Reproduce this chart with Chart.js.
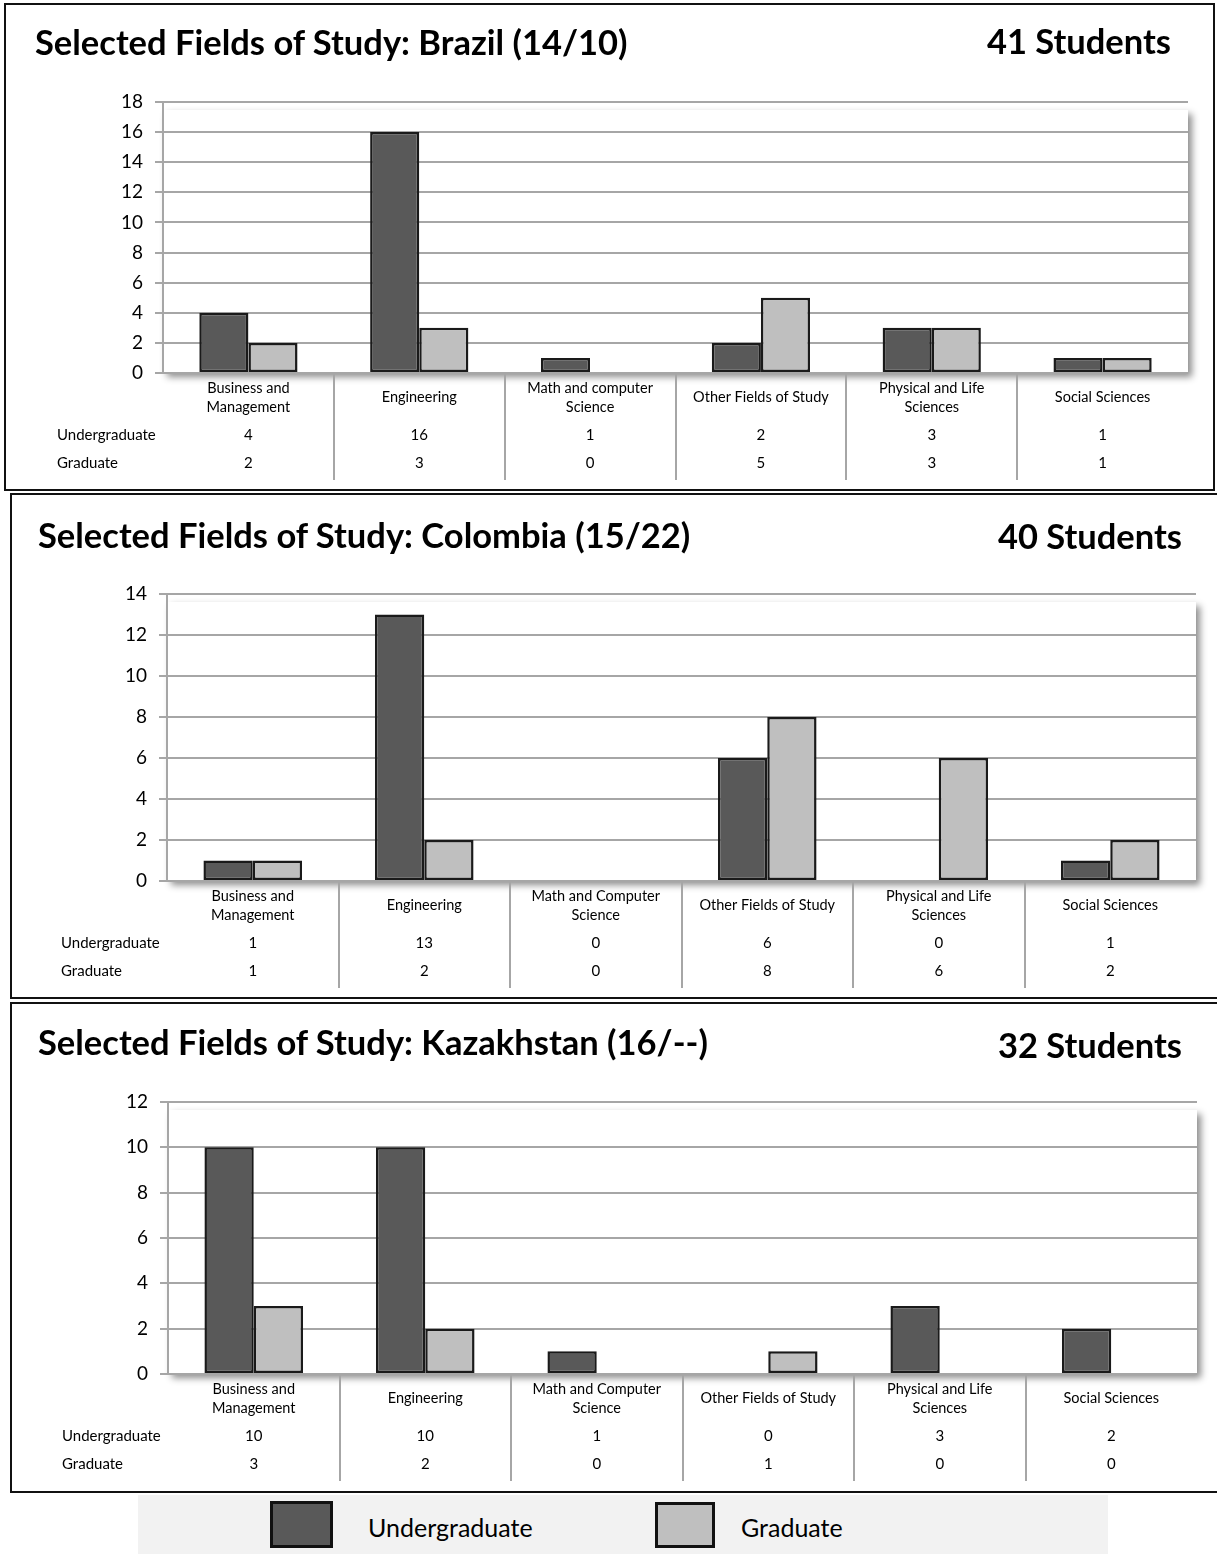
<!DOCTYPE html>
<html>
<head>
<meta charset="utf-8">
<script src="https://cdn.jsdelivr.net/npm/chart.js@4.4.1/dist/chart.umd.min.js"></script>
<style>
  html, body { margin:0; padding:0; background:#fff; }
  body { width:1217px; height:1554px; position:relative; overflow:hidden; font-family: Lato, "Open Sans", sans-serif; }
  .panel { position:absolute; border:2px solid #111; box-sizing:border-box; }
  .wrap { position:absolute; left:0; width:1217px; }
  .title { position:absolute; font-weight:bold; font-size:34.5px; color:#000; white-space:nowrap; line-height:1; }
  .rtitle { position:absolute; font-weight:bold; font-size:34.5px; color:#000; white-space:nowrap; line-height:1; text-align:right; }
  #legend { position:absolute; left:138px; top:1495px; width:970px; height:59px; background:#f2f2f2; }
  .sw { position:absolute; box-sizing:border-box; border:3px solid #111; }
  .lt { position:absolute; font-size:25px; color:#000; white-space:nowrap; line-height:1; }
</style>
</head>
<body>
<div class="panel" style="left:4px;top:3px;width:1211px;height:488px;"></div>
<div class="panel" style="left:10px;top:493px;width:1212px;height:506px;"></div>
<div class="panel" style="left:10px;top:1002px;width:1212px;height:491px;"></div>

<div class="wrap" style="top:0;height:492px;"><canvas id="c1"></canvas></div>
<div class="wrap" style="top:492px;height:508px;"><canvas id="c2"></canvas></div>
<div class="wrap" style="top:1000px;height:494px;"><canvas id="c3"></canvas></div>

<div class="title" style="left:35px;top:25px;">Selected Fields of Study: Brazil (14/10)</div>
<div class="rtitle" style="right:46px;top:24px;">41 Students</div>
<div class="title" style="left:38px;top:518px;">Selected Fields of Study: Colombia (15/22)</div>
<div class="rtitle" style="right:35px;top:519px;">40 Students</div>
<div class="title" style="left:38px;top:1025px;">Selected Fields of Study: Kazakhstan (16/--)</div>
<div class="rtitle" style="right:35px;top:1028px;">32 Students</div>

<div id="legend">
  <div class="sw" style="left:132px;top:6px;width:63px;height:47px;background:#595959;"></div>
  <div class="lt" style="left:230px;top:20px;">Undergraduate</div>
  <div class="sw" style="left:517px;top:7px;width:60px;height:46px;background:#bfbfbf;"></div>
  <div class="lt" style="left:603px;top:20px;">Graduate</div>
</div>

<script>
// ---------- DATA ----------
const seriesNames = ["Undergraduate", "Graduate"];

const brazilCategories = [["Business and","Management"], "Engineering", ["Math and computer","Science"], "Other Fields of Study", ["Physical and Life","Sciences"], "Social Sciences"];
const brazilUndergrad = [4, 16, 1, 2, 3, 1];
const brazilGrad      = [2, 3, 0, 5, 3, 1];
const brazilTicks = { max: 18, step: 2 };

const colombiaCategories = [["Business and","Management"], "Engineering", ["Math and Computer","Science"], "Other Fields of Study", ["Physical and Life","Sciences"], "Social Sciences"];
const colombiaUndergrad = [1, 13, 0, 6, 0, 1];
const colombiaGrad      = [1, 2, 0, 8, 6, 2];
const colombiaTicks = { max: 14, step: 2 };

const kazakhCategories = [["Business and","Management"], "Engineering", ["Math and Computer","Science"], "Other Fields of Study", ["Physical and Life","Sciences"], "Social Sciences"];
const kazakhUndergrad = [10, 10, 1, 0, 3, 2];
const kazakhGrad      = [3, 2, 0, 1, 0, 0];
const kazakhTicks = { max: 12, step: 2 };

// ---------- STYLE ----------
const FONT = "Lato, 'Open Sans', sans-serif";
const UG_COLOR = "#595959", G_COLOR = "#bfbfbf", BAR_BORDER = "#1a1a1a";
const GRID = "#a6a6a6";

const shadowPlugin = {
  id: 'areaShadow',
  beforeDraw(chart) {
    const {ctx, chartArea: a} = chart;
    ctx.save();
    ctx.shadowColor = 'rgba(0,0,0,0.45)';
    ctx.shadowBlur = 7;
    ctx.shadowOffsetX = 4;
    ctx.shadowOffsetY = 4;
    ctx.fillStyle = '#fff';
    ctx.fillRect(a.left, a.top + 8, a.right - a.left, a.bottom - a.top - 8);
    ctx.restore();
  }
};

const tablePlugin = {
  id: 'dataTable',
  afterDraw(chart) {
    const {ctx, chartArea: a, scales: {x}} = chart;
    const base = a.bottom;
    const n = chart.data.labels.length;
    ctx.save();
    ctx.strokeStyle = GRID;
    ctx.lineWidth = 2;
    for (let i = 1; i < n; i++) {
      const px = Math.round((x.getPixelForValue(i - 1) + x.getPixelForValue(i)) / 2);
      ctx.beginPath();
      ctx.moveTo(px, base);
      ctx.lineTo(px, base + 107);
      ctx.stroke();
    }
    ctx.fillStyle = '#000';
    ctx.font = "15px " + FONT;
    ctx.textBaseline = 'middle';
    chart.data.datasets.forEach((ds, r) => {
      const y = base + 62 + r * 28;
      ctx.textAlign = 'left';
      ctx.fillText(ds.label, a.left - 106, y);
      ctx.textAlign = 'center';
      ds.data.forEach((v, i) => ctx.fillText(String(v), x.getPixelForValue(i), y));
    });
    ctx.restore();
  }
};

function makeChart(id, h, cats, ug, gr, tk, pad) {
  const canvas = document.getElementById(id);
  canvas.style.width = '1217px';
  canvas.style.height = h + 'px';
  return new Chart(canvas, {
    type: 'bar',
    data: {
      labels: cats,
      datasets: [
        { label: seriesNames[0], data: ug, backgroundColor: UG_COLOR, borderColor: BAR_BORDER, borderWidth: 2.5, borderSkipped: false },
        { label: seriesNames[1], data: gr, backgroundColor: G_COLOR, borderColor: BAR_BORDER, borderWidth: 2.5, borderSkipped: false }
      ]
    },
    options: {
      responsive: true,
      maintainAspectRatio: false,
      animation: false,
      devicePixelRatio: 1,
      layout: { padding: pad },
      categoryPercentage: 0.575,
      barPercentage: 1.0,
      plugins: { legend: { display: false }, tooltip: { enabled: false }, title: { display: false } },
      scales: {
        x: {
          grid: { display: false, drawTicks: false },
          border: { display: false },
          ticks: { font: { family: FONT, size: 14.5, lineHeight: 1.32 }, color: '#000', padding: 15, crossAlign: 'center', maxRotation: 0, autoSkip: false },
          afterFit(s) { s.height = 110; }
        },
        y: {
          min: 0, max: tk.max,
          grid: { color: GRID, lineWidth: 2, tickLength: 8, drawTicks: true },
          border: { display: true, color: GRID, width: 2 },
          ticks: { stepSize: tk.step, font: { family: FONT, size: 19 }, color: '#000', padding: 12 },
          afterFit(s) { s.width = pad.yw; }
        }
      }
    },
    plugins: [shadowPlugin, tablePlugin]
  });
}

makeChart('c1', 492, brazilCategories, brazilUndergrad, brazilGrad, brazilTicks, { top: 102, right: 29, bottom: 9, left: 0, yw: 163 });
makeChart('c2', 508, colombiaCategories, colombiaUndergrad, colombiaGrad, colombiaTicks, { top: 102, right: 21, bottom: 9, left: 0, yw: 167 });
makeChart('c3', 494, kazakhCategories, kazakhUndergrad, kazakhGrad, kazakhTicks, { top: 102, right: 20, bottom: 10, left: 0, yw: 168 });
</script>
</body>
</html>
